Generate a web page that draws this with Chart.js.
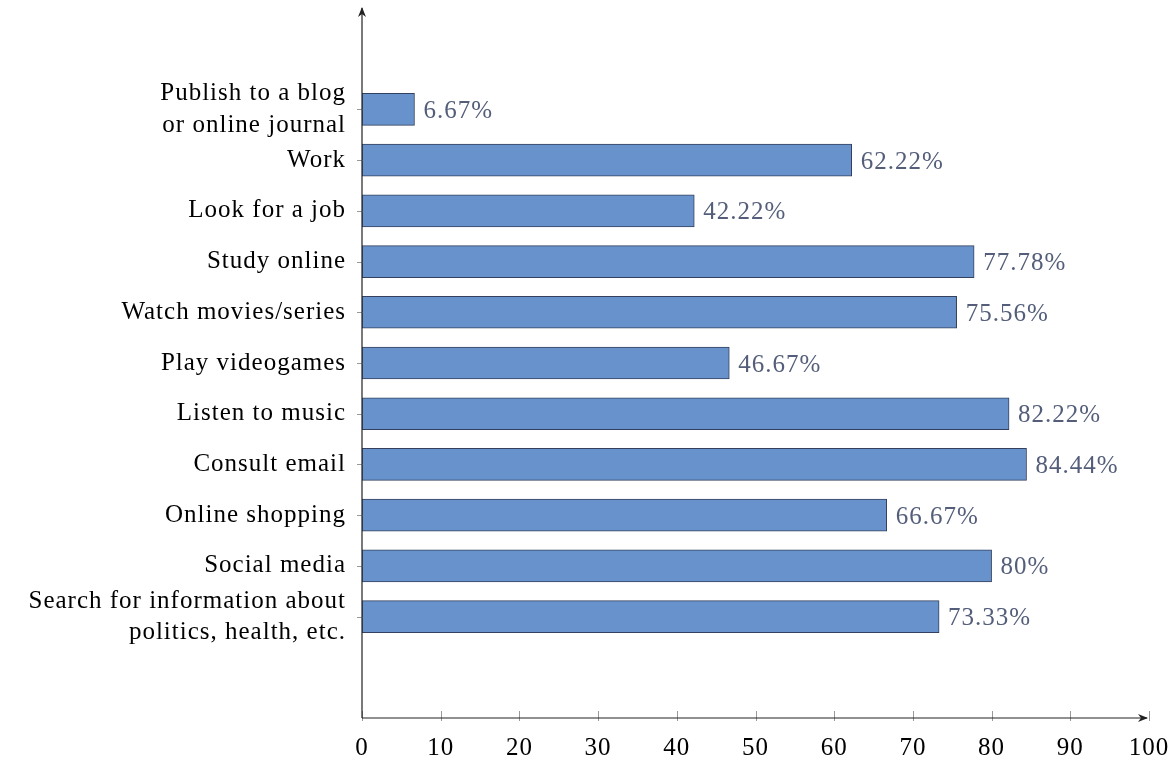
<!DOCTYPE html>
<html>
<head>
<meta charset="utf-8">
<script src="https://cdn.jsdelivr.net/npm/chart.js@4/dist/chart.umd.min.js"></script>
<style>
  html, body { margin: 0; padding: 0; background: #fff; }
  #wrap { width: 1175px; height: 758px; }
</style>
</head>
<body>
<div id="wrap"><canvas id="usesChart"></canvas></div>
<script>
const categories = [
    ['Publish to a blog', 'or online journal'],
    'Work',
    'Look for a job',
    'Study online',
    'Watch movies/series',
    'Play videogames',
    'Listen to music',
    'Consult email',
    'Online shopping',
    'Social media',
    ['Search for information about', 'politics, health, etc.']
];
const values = [6.67, 62.22, 42.22, 77.78, 75.56, 46.67, 82.22, 84.44, 66.67, 80, 73.33];
const xTicks = [0, 10, 20, 30, 40, 50, 60, 70, 80, 90, 100];

const serif = "'Liberation Serif', 'DejaVu Serif', serif";

// slightly wider text, closer to the computer modern look
const wideText = {
    id: 'wideText',
    beforeDraw(chart) {
        chart.ctx.letterSpacing = '1px';
    }
};

// value labels at the end of each bar
const barValues = {
    id: 'barValues',
    afterDatasetsDraw(chart) {
        const c = chart.ctx;
        const meta = chart.getDatasetMeta(0);
        c.save();
        c.font = '25px ' + serif;
        c.fillStyle = '#545e7a';
        c.textAlign = 'left';
        c.textBaseline = 'middle';
        meta.data.forEach((bar, i) => {
            c.fillText(values[i] + '%', bar.x + 9, bar.y + 2);
        });
        c.restore();
    }
};

// axis lines with arrows and pgfplots-like tick marks
const axesArrows = {
    id: 'axesArrows',
    afterDraw(chart) {
        const c = chart.ctx;
        const a = chart.chartArea;
        const xs = chart.scales.x, ys = chart.scales.y;
        c.save();
        c.strokeStyle = '#999';
        c.lineWidth = 1;
        xTicks.forEach(t => {
            const px = Math.round(xs.getPixelForValue(t)) + 0.5;
            c.beginPath();
            c.moveTo(px, a.bottom - 7);
            c.lineTo(px, a.bottom + 3);
            c.stroke();
        });
        categories.forEach((_, i) => {
            const py = Math.round(ys.getPixelForValue(i)) + 0.5;
            c.beginPath();
            c.moveTo(a.left - 5, py);
            c.lineTo(a.left + 1, py);
            c.stroke();
        });
        c.strokeStyle = '#222';
        c.fillStyle = '#222';
        c.lineWidth = 1.2;
        c.beginPath();
        c.moveTo(a.left, a.bottom);
        c.lineTo(a.right - 2, a.bottom);
        c.moveTo(a.left, a.bottom);
        c.lineTo(a.left, a.top);
        c.stroke();
        // arrow heads
        c.beginPath();
        c.moveTo(a.right - 1, a.bottom);
        c.lineTo(a.right - 11, a.bottom - 4);
        c.lineTo(a.right - 8, a.bottom);
        c.lineTo(a.right - 11, a.bottom + 4);
        c.closePath();
        c.fill();
        c.beginPath();
        c.moveTo(a.left, a.top - 1);
        c.lineTo(a.left - 4, a.top + 9);
        c.lineTo(a.left, a.top + 6);
        c.lineTo(a.left + 4, a.top + 9);
        c.closePath();
        c.fill();
        c.restore();
    }
};

const usesChart = new Chart(document.getElementById('usesChart'), {
    type: 'bar',
    data: {
        datasets: [{
            data: values.map((v, i) => ({ x: v, y: i })),
            backgroundColor: '#6892cc',
            borderColor: '#33415e',
            borderWidth: 1,
            borderSkipped: false,
            barThickness: 32
        }]
    },
    options: {
        indexAxis: 'y',
        responsive: true,
        maintainAspectRatio: false,
        animation: false,
        layout: { padding: { top: 8, right: 26, left: 0, bottom: 0 } },
        plugins: {
            legend: { display: false },
            tooltip: { enabled: false }
        },
        scales: {
            x: {
                type: 'linear',
                min: 0,
                max: 100,
                grid: { display: false },
                border: { display: false },
                ticks: {
                    stepSize: 10,
                    padding: 7,
                    color: '#000',
                    font: { family: serif, size: 25 }
                },
                afterFit: s => { s.height = 40; s.paddingLeft = 0; s.paddingRight = 0; }
            },
            y: {
                type: 'linear',
                reverse: true,
                offset: false,
                min: -2,
                max: 12,
                grid: { display: false },
                border: { display: false },
                afterBuildTicks: s => {
                    s.ticks = s.ticks.filter(t => t.value >= 0 && t.value < categories.length);
                },
                ticks: {
                    stepSize: 1,
                    autoSkip: false,
                    padding: 8,
                    color: '#000',
                    font: { family: serif, size: 25, lineHeight: 1.25 },
                    callback: v => categories[v]
                },
                afterFit: s => { s.width = 362; s.paddingTop = 0; s.paddingBottom = 0; }
            }
        }
    },
    plugins: [wideText, barValues, axesArrows]
});
</script>
</body>
</html>
